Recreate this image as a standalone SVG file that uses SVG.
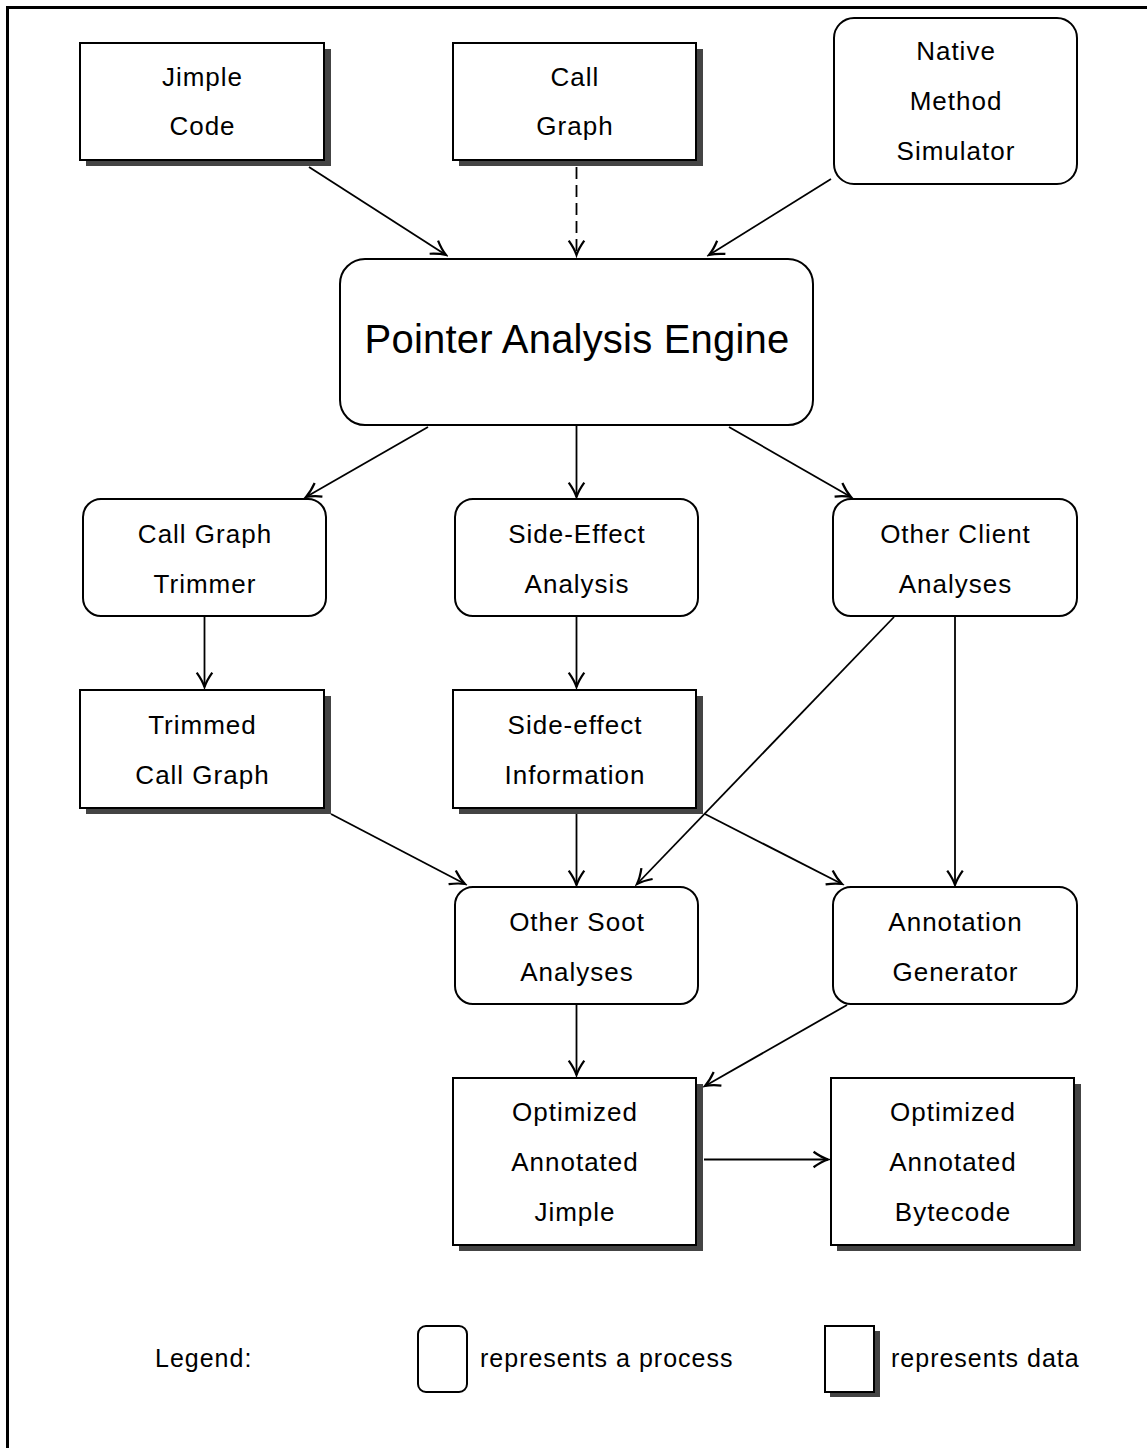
<svg xmlns="http://www.w3.org/2000/svg" width="1147" height="1448" viewBox="0 0 1147 1448">
<style>
.t{font-family:"Liberation Sans",Arial,sans-serif;font-size:26px;letter-spacing:1px;fill:#000;text-anchor:middle}
.big{font-size:40px;letter-spacing:0.2px}
.lg{font-family:"Liberation Sans",Arial,sans-serif;font-size:25px;letter-spacing:1px;fill:#000}
.box{fill:#fff;stroke:#000;stroke-width:2}
.sh{fill:#444;stroke:none}
.c{stroke:#000;stroke-width:1.8;fill:none;marker-end:url(#ah)}
.d{stroke-dasharray:12 6}
</style>
<defs>
<marker id="ah" markerUnits="userSpaceOnUse" markerWidth="20" markerHeight="20" viewBox="-15 -9 17 18" refX="0" refY="0" orient="auto">
<path d="M-13,-7 Q-6,-2 0,0 Q-6,2 -13,7" fill="none" stroke="#000" stroke-width="2"/>
</marker>
</defs>
<rect width="1147" height="1448" fill="#fff"/>
<path d="M7.5,1448 V7.5 H1147" fill="none" stroke="#000" stroke-width="3"/>

<g id="connectors">
<line class="c" x1="309" y1="167" x2="446" y2="255"/>
<line class="c d" x1="576.5" y1="167" x2="576.5" y2="255"/>
<line class="c" x1="831" y1="179" x2="709" y2="255"/>
<line class="c" x1="428" y1="427" x2="306" y2="497"/>
<line class="c" x1="576.5" y1="426" x2="576.5" y2="497"/>
<line class="c" x1="729" y1="427" x2="851" y2="497"/>
<line class="c" x1="204.5" y1="617" x2="204.5" y2="687"/>
<line class="c" x1="576.5" y1="617" x2="576.5" y2="687"/>
<line class="c" x1="894" y1="617" x2="637" y2="884"/>
<line class="c" x1="955" y1="617" x2="955" y2="885"/>
<line class="c" x1="331" y1="814" x2="465" y2="884"/>
<line class="c" x1="576.5" y1="814" x2="576.5" y2="885"/>
<line class="c" x1="705" y1="814" x2="842" y2="884"/>
<line class="c" x1="576.5" y1="1004" x2="576.5" y2="1075"/>
<line class="c" x1="847" y1="1005" x2="705" y2="1086"/>
<line class="c" x1="704" y1="1159.5" x2="828" y2="1159.5"/>
</g>

<g id="jimple-code">
<rect class="sh" x="86" y="49" width="245" height="117"/>
<rect class="box" x="80" y="43" width="244" height="117"/>
<text class="t" x="202.5" y="86">Jimple</text>
<text class="t" x="202.5" y="135">Code</text>
</g>
<g id="call-graph">
<rect class="sh" x="459" y="49" width="244" height="117"/>
<rect class="box" x="453" y="43" width="243" height="117"/>
<text class="t" x="575" y="86">Call</text>
<text class="t" x="575" y="135">Graph</text>
</g>
<g id="native-method-simulator">
<rect class="box" x="834" y="18" width="243" height="166" rx="20"/>
<text class="t" x="956" y="60">Native</text>
<text class="t" x="956" y="110">Method</text>
<text class="t" x="956" y="160">Simulator</text>
</g>
<g id="pointer-analysis-engine">
<rect class="box" x="340" y="259" width="473" height="166" rx="25"/>
<text class="t big" x="577" y="353">Pointer Analysis Engine</text>
</g>
<g id="call-graph-trimmer">
<rect class="box" x="83" y="499" width="243" height="117" rx="18"/>
<text class="t" x="205" y="543">Call Graph</text>
<text class="t" x="205" y="593">Trimmer</text>
</g>
<g id="side-effect-analysis">
<rect class="box" x="455" y="499" width="243" height="117" rx="18"/>
<text class="t" x="577" y="543">Side-Effect</text>
<text class="t" x="577" y="593">Analysis</text>
</g>
<g id="other-client-analyses">
<rect class="box" x="833" y="499" width="244" height="117" rx="18"/>
<text class="t" x="955.5" y="543">Other Client</text>
<text class="t" x="955.5" y="593">Analyses</text>
</g>
<g id="trimmed-call-graph">
<rect class="sh" x="86" y="696" width="245" height="118"/>
<rect class="box" x="80" y="690" width="244" height="118"/>
<text class="t" x="202.5" y="734">Trimmed</text>
<text class="t" x="202.5" y="784">Call Graph</text>
</g>
<g id="side-effect-information">
<rect class="sh" x="459" y="696" width="244" height="118"/>
<rect class="box" x="453" y="690" width="243" height="118"/>
<text class="t" x="575" y="734">Side-effect</text>
<text class="t" x="575" y="784">Information</text>
</g>
<g id="other-soot-analyses">
<rect class="box" x="455" y="887" width="243" height="117" rx="18"/>
<text class="t" x="577" y="931">Other Soot</text>
<text class="t" x="577" y="981">Analyses</text>
</g>
<g id="annotation-generator">
<rect class="box" x="833" y="887" width="244" height="117" rx="18"/>
<text class="t" x="955.5" y="931">Annotation</text>
<text class="t" x="955.5" y="981">Generator</text>
</g>
<g id="optimized-annotated-jimple">
<rect class="sh" x="459" y="1084" width="244" height="167"/>
<rect class="box" x="453" y="1078" width="243" height="167"/>
<text class="t" x="575" y="1121">Optimized</text>
<text class="t" x="575" y="1171">Annotated</text>
<text class="t" x="575" y="1221">Jimple</text>
</g>
<g id="optimized-annotated-bytecode">
<rect class="sh" x="837" y="1084" width="244" height="167"/>
<rect class="box" x="831" y="1078" width="243" height="167"/>
<text class="t" x="953" y="1121">Optimized</text>
<text class="t" x="953" y="1171">Annotated</text>
<text class="t" x="953" y="1221">Bytecode</text>
</g>

<g id="legend">
<text class="lg" x="155" y="1367">Legend:</text>
<rect class="box" x="418" y="1326" width="49" height="66" rx="8"/>
<text class="lg" x="480" y="1367">represents a process</text>
<rect class="sh" x="830" y="1331" width="50" height="66"/>
<rect class="box" x="825" y="1326" width="49" height="66"/>
<text class="lg" x="891" y="1367">represents data</text>
</g>
</svg>
